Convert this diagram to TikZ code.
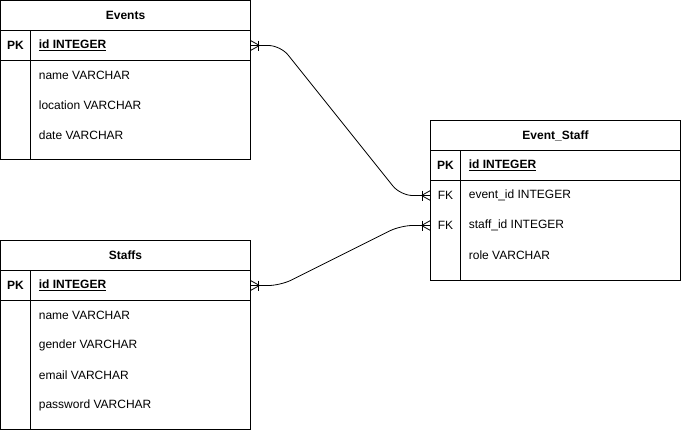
\documentclass[tikz,border=0pt]{standalone}
\usepackage{fontspec}
\setmainfont{Liberation Sans}
\usepackage{tikz}
\usetikzlibrary{positioning,calc}

\begin{document}
\fontsize{12}{14}\selectfont
\begin{tikzpicture}[x=1pt,y=-1pt,line width=0.8pt,
  tbox/.style={draw,minimum width=250,minimum height=30,inner sep=0pt,outer sep=0pt,anchor=north west},
  ttl/.style={font=\bfseries},
  keytxt/.style={inner sep=0pt},
  fld/.style={anchor=west,inner sep=0pt},
  link/.style={rounded corners=12pt},
  crow/.pic={\draw (0,-5) -- (9,0) -- (0,5); \draw (8,-5) -- (8,5);}]
\useasboundingbox (0,0) rectangle (681,431);
% table Events
\node[tbox] (ev) at (0.5,0.5) {};
\node[ttl] (evt) at (ev.center) {Events};
\node[tbox,below=0pt of ev] (evpk) {};
\node[tbox,minimum height=99,below=0pt of evpk] (evbody) {};
\draw ([xshift=30]evpk.north west) -- ([xshift=30]evbody.south west);
\node[keytxt,font=\bfseries] (evk) at ([xshift=15]evpk.west) {PK};
\node[fld] (evid) at ([xshift=38]evpk.west) {\bfseries\underline{id INTEGER}};
\foreach \f [count=\i] in {name VARCHAR,location VARCHAR,date VARCHAR}
  \node[fld] (evf\i) at ($(evbody.north west)+(38,-15+30*\i)$) {\f};
% table Staffs
\node[tbox] (st) at (0.5,240.5) {};
\node[ttl] (stt) at (st.center) {Staffs};
\node[tbox,below=0pt of st] (stpk) {};
\node[tbox,minimum height=129,below=0pt of stpk] (stbody) {};
\draw ([xshift=30]stpk.north west) -- ([xshift=30]stbody.south west);
\node[keytxt,font=\bfseries] (stk) at ([xshift=15]stpk.west) {PK};
\node[fld] (stid) at ([xshift=38]stpk.west) {\bfseries\underline{id INTEGER}};
\foreach \f [count=\i] in {name VARCHAR,gender VARCHAR,email VARCHAR,password VARCHAR}
  \node[fld] (stf\i) at ($(stbody.north west)+(38,-15+30*\i)$) {\f};
% table Event_Staff
\node[tbox] (es) at (430.5,120.5) {};
\node[ttl] (est) at (es.center) {Event\_Staff};
\node[tbox,below=0pt of es] (espk) {};
\node[tbox,minimum height=100,below=0pt of espk] (esbody) {};
\draw ([xshift=30]espk.north west) -- ([xshift=30]esbody.south west);
\node[keytxt,font=\bfseries] (esk) at ([xshift=15]espk.west) {PK};
\node[fld] (esid) at ([xshift=38]espk.west) {\bfseries\underline{id INTEGER}};
\foreach \f [count=\i] in {event\_id INTEGER,staff\_id INTEGER,role VARCHAR}
  \node[fld] (esf\i) at ($(esbody.north west)+(38,-15+30*\i)$) {\f};
\foreach \i in {1,2}
  \node[keytxt] (esfk\i) at ($(esbody.north west)+(15,-15+30*\i)$) {FK};
% relations
\draw[link] (evpk.east) -- ++(30,0) -- ($(esbody.west |- esf1)+(-30,0)$) -- (esbody.west |- esf1);
\draw[link] (stpk.east) -- ++(30,0) -- ($(esbody.west |- esf2)+(-30,0)$) -- (esbody.west |- esf2);
\pic at (evpk.east) {crow};
\pic at (stpk.east) {crow};
\pic[xscale=-1] at (esbody.west |- esf1) {crow};
\pic[xscale=-1] at (esbody.west |- esf2) {crow};
\end{tikzpicture}
\end{document}
